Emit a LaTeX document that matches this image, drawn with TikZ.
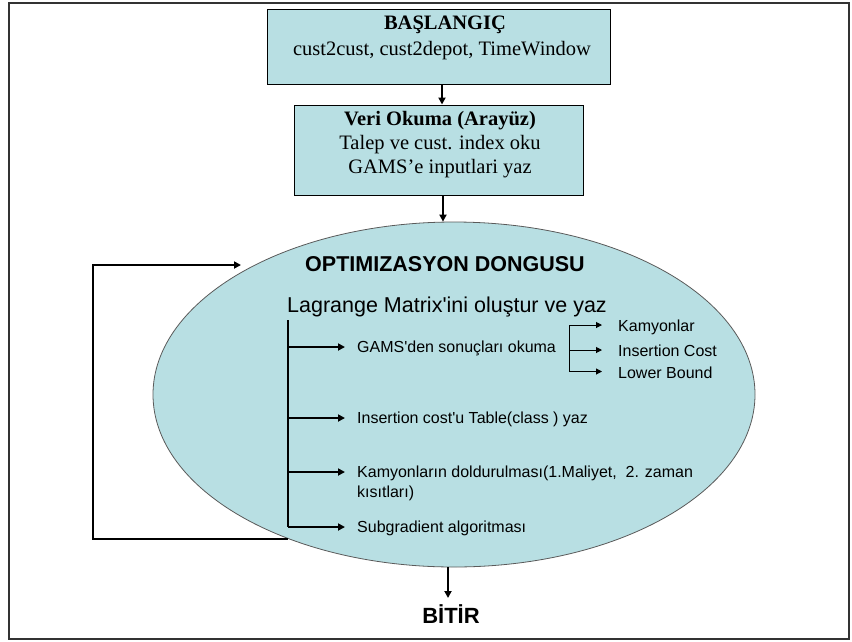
\documentclass[tikz,border=0pt]{standalone}
\usepackage{fontspec}
\setmainfont{Liberation Serif}
\newfontfamily\plainsans{Liberation Sans}
\usetikzlibrary{shapes.geometric,arrows.meta}
\definecolor{boxfill}{RGB}{184,223,227}
\definecolor{edgegray}{RGB}{90,90,90}
\begin{document}
\begin{tikzpicture}[x=1pt,y=-1pt,
  flowbox/.style={draw=black,line width=1pt,fill=boxfill,inner sep=0pt},
  serif/.style={font=\fontsize{20.5}{24}\selectfont,inner sep=0pt,anchor=base},
  serifb/.style={font=\fontsize{20.5}{24}\selectfont\bfseries,inner sep=0pt,anchor=base},
  bigsans/.style={font=\plainsans\bfseries\fontsize{21.5}{25}\selectfont,inner sep=0pt,anchor=base},
  midsans/.style={font=\plainsans\fontsize{21.5}{25}\selectfont,inner sep=0pt,anchor=base},
  smallsans/.style={font=\plainsans\fontsize{16}{20}\selectfont,inner sep=0pt,anchor=base west,align=left},
  arr/.style={line width=1.8pt,-{Triangle[length=7pt,width=7pt]}},
  thinarr/.style={line width=1pt,-{Triangle[length=6pt,width=6pt]}}]
\useasboundingbox (0,0) rectangle (852,641);
% frame
\draw[line width=2pt,draw=black!80] (9,3) rectangle (849,639);
% boxes
\node[flowbox,minimum width=343pt,minimum height=75pt] (b1) at (438.5,46.5) {};
\node[serifb] (b1t) at (445,29) {BAŞLANGIÇ};
\node[serif] (b1s) at (442,55) {cust2cust, cust2depot, TimeWindow};
\node[flowbox,minimum width=289pt,minimum height=90pt] (b2) at (438.5,150) {};
\node[serifb] (b2t) at (440,125) {Veri Okuma (Arayüz)};
\node[serif] (b2s) at (440,149.5) {Talep ve cust. index oku};
\node[serif] (b2u) at (440,173.5) {GAMS’e inputlari yaz};
% ellipse
\node[ellipse,draw=edgegray,line width=0.8pt,fill=boxfill,minimum width=602pt,minimum height=345pt,inner sep=0pt] (ell) at (454,394.5) {};
\node[bigsans] (h1) at (445,271.5) {OPTIMIZASYON DONGUSU};
\node[midsans] (h2) at (447,312) {Lagrange Matrix'ini oluştur ve yaz};
% arrows between boxes
\draw[arr] ([xshift=3.5pt]b1.south) -- ([xshift=3.5pt]b2.north);
\draw[arr] ([xshift=4.5pt]b2.south) -- ([xshift=4.5pt]b2.south |- ell.north);
% end
\node[font=\plainsans\bfseries\fontsize{22}{25}\selectfont,inner sep=0pt,anchor=base] (end) at (451,623) {BİTİR};
\coordinate (endtip) at (448,598);
\draw[arr] (endtip |- ell.south) -- (endtip);
% loop
\coordinate (lc) at (93,265);
\coordinate (le) at (241,265);
\draw[arr] (ell.221) -| (lc) -- (le);
% inner spine
\coordinate (vtop) at (288,320);
\coordinate (vbot) at (288,527);
\draw[line width=1.8pt] (vtop) -- (vbot);
\node[smallsans] (t1) at (357,352.5) {GAMS'den sonuçları okuma};
\node[smallsans] (t2) at (357,423.5) {Insertion cost'u Table(class ) yaz};
\node[smallsans] (t3) at (357,497.5) {Kamyonların doldurulması(1.Maliyet,\ \ 2. zaman\\kısıtları)};
\node[smallsans] (t4) at (357,532.5) {Subgradient algoritması};
\coordinate (k1) at (345,347);
\coordinate (k2) at (345,418);
\coordinate (k3) at (345,472);
\coordinate (k4) at (345,527);
\foreach \k in {k1,k2,k3,k4}{\draw[arr] (vtop |- \k) -- (\k);}
% sub bracket
\coordinate (stop) at (569,325);
\coordinate (sbot) at (569,371.5);
\draw[line width=1pt] (stop) -- (sbot);
\node[smallsans] (s1) at (618,331.5) {Kamyonlar};
\node[smallsans] (s2) at (618,356.5) {Insertion Cost};
\node[smallsans] (s3) at (618,378) {Lower Bound};
\coordinate (m1) at (602,325);
\coordinate (m2) at (602,350);
\coordinate (m3) at (602,371.5);
\foreach \m in {m1,m2,m3}{\draw[thinarr] (stop |- \m) -- (\m);}
\end{tikzpicture}
\end{document}
